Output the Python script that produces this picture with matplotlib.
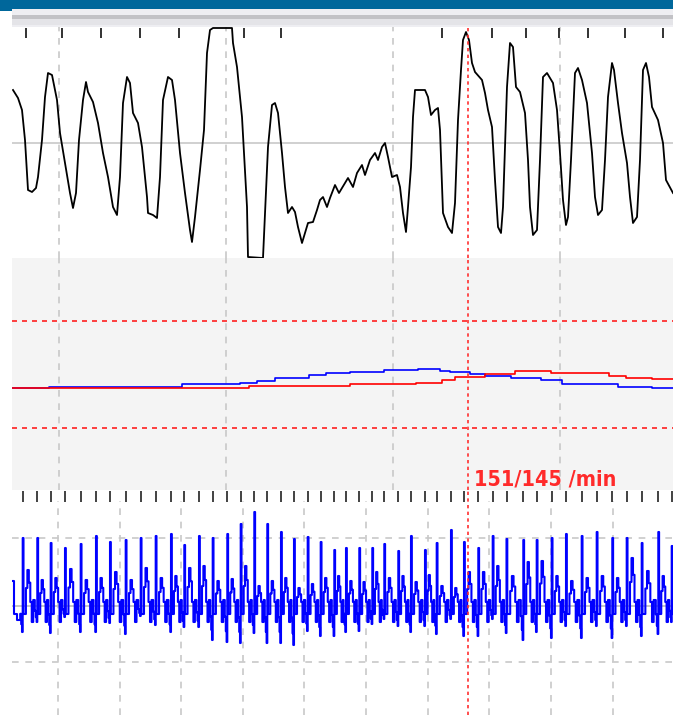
import matplotlib
matplotlib.use('Agg')
import matplotlib.pyplot as plt
from matplotlib.patches import Rectangle

W, H = 673, 715

# pulse / pressure waveform (sample index, amplitude)
wave_x = [13, 18, 22, 25, 28, 32, 36, 38, 42, 45, 48, 52, 57, 60, 65, 70, 73, 76, 79, 83,
          86, 88, 93, 98, 103, 108, 113, 117, 120, 123, 127, 130, 133, 138, 142, 147, 148, 153, 157, 160,
          163, 168, 172, 175, 180, 185, 190, 192, 195, 200, 204, 207, 210, 213, 232, 233, 237, 242, 247, 248,
          263, 265, 268, 272, 275, 278, 282, 285, 288, 292, 295, 298, 302, 305, 308, 313, 317, 320, 323, 327,
          330, 335, 339, 345, 348, 353, 357, 362, 365, 370, 375, 378, 382, 385, 388, 392, 397, 400, 403, 406,
          408, 411, 413, 415, 425, 428, 431, 435, 438, 440, 443, 448, 452, 455, 458, 461, 463, 466, 469, 472,
          475, 482, 485, 488, 492, 495, 498, 501, 503, 507, 510, 513, 516, 520, 525, 528, 530, 533, 537, 540,
          543, 547, 553, 557, 560, 563, 566, 568, 571, 575, 578, 582, 587, 592, 595, 598, 602, 605, 608, 612,
          614, 618, 622, 627, 630, 633, 637, 640, 643, 646, 649, 652, 658, 663, 666, 673]
wave_y = [53, 45, 33, 3, -47, -49, -45, -34, 3, 46, 70, 68, 43, 10, -20, -50, -65, -50, 3, 43,
          61, 51, 41, 20, -10, -34, -64, -72, -34, 40, 66, 60, 30, 20, -4, -54, -70, -72, -75, -34,
          43, 66, 63, 43, -10, -50, -87, -99, -74, -27, 13, 90, 113, 115, 115, 100, 76, 26, -64, -114,
          -115, -70, -4, 38, 40, 30, -10, -44, -70, -64, -69, -84, -100, -90, -80, -79, -67, -57, -54, -64,
          -55, -42, -50, -40, -35, -44, -30, -22, -32, -17, -10, -17, -4, 0, -14, -34, -32, -44, -70, -89,
          -64, -24, 26, 53, 53, 46, 28, 33, 35, 13, -70, -84, -90, -60, 23, 73, 103, 111, 103, 80,
          71, 63, 50, 33, 16, -37, -84, -90, -64, 56, 100, 96, 56, 51, 30, -17, -64, -92, -87, -17,
          66, 70, 60, 33, -10, -57, -82, -74, -17, 70, 75, 63, 40, -10, -54, -72, -67, -17, 46, 80,
          73, 40, 10, -20, -54, -80, -74, -17, 73, 80, 66, 36, 23, 0, -37, -50]
wave_marks = [26, 62, 101, 140, 179, 244, 281, 442, 492, 526, 559, 588, 625, 663]

# heart rate traces (segment start, bpm)
hr_blue_x = [12, 49, 182, 240, 257, 275, 309, 326, 350, 384, 418, 440, 450, 470, 485, 511, 541, 562, 618, 652, 673]
hr_blue = [142.4, 143.0, 144.7, 145.2, 146.3, 148.0, 149.7, 150.9, 151.4, 152.5, 153.1, 152.0, 151.4, 150.3,
           149.2, 148.0, 146.9, 144.7, 143.0, 142.4, 142.4]
hr_red_x = [12, 249, 350, 416, 442, 455, 485, 515, 551, 609, 626, 652, 673]
hr_red = [142.4, 143.5, 144.7, 145.2, 146.9, 148.6, 150.3, 152.0, 150.9, 149.2, 148.0, 147.6, 147.6]
hr_limits = [180, 120]
cursor_x = 468
cursor_label = "151/145 /min"

# ECG beats: R position, R height, trough, following bump
r_pos = [22.7, 37.3, 50.7, 65, 80.7, 96, 110, 125.7, 140.7, 155.7, 171,
         184.3, 199, 212.7, 227.3, 240.7, 254.3, 267.3, 281, 294, 307.7, 320.7, 334.3,
         346, 359.3, 372.3, 384.3, 398.3, 411, 425, 436.7, 451, 464, 478.3, 492.7,
         506.5, 523.3, 536.7, 551.7, 566, 581.7, 596.7, 612.3, 626.7, 641.7, 658.3, 671.7]
r_amp = [68, 68, 63, 58, 62, 70, 64, 66, 68, 70, 72,
         61, 70, 68, 72, 82, 94, 82, 74, 67, 69, 64, 56,
         58, 58, 58, 62, 55, 70, 56, 63, 76, 64, 58, 70,
         67, 66, 66, 68, 72, 70, 74, 68, 68, 63, 74, 60]
s_amp = [-26, -16, -27, -11, -26, -26, -17, -28, -10, -19, -26,
         -21, -21, -34, -36, -37, -27, -37, -37, -39, -25, -30, -30,
         -26, -25, -18, -13, -20, -26, -20, -28, -13, -30, -30, -13,
         -27, -34, -26, -32, -20, -32, -20, -32, -20, -30, -28, -16]
bump_amp = [36, 26, 28, 37, 26, 28, 34, 26, 38, 28, 30,
            38, 40, 25, 27, 40, 20, 25, 28, 18, 22, 28, 30,
            25, 24, 34, 28, 30, 24, 31, 20, 18, 34, 34, 40,
            30, 44, 45, 30, 25, 28, 30, 28, 48, 35, 30, 28]
ecg_limits = [68, -56]

grid_main = [59, 226, 393, 560]
grid_ecg = [58, 119.5, 181, 242.5, 304, 366, 427.5, 489, 551, 612.5]

ecg_x, ecg_y = [12, 14, 17], [25, -8, -14]
for i, pos in enumerate(r_pos):
    gap = (r_pos[i + 1] if i + 1 < len(r_pos) else pos + 14) - pos
    b = bump_amp[i]
    ecg_x += [pos - 2.5, pos - 1.5, pos - 0.7, pos, pos + 0.8, pos + 0.22 * gap, pos + 0.32 * gap,
              pos + 0.42 * gap, pos + 0.52 * gap, pos + 0.62 * gap, pos + 0.72 * gap]
    ecg_y += [0.3 * s_amp[i], 0.7 * s_amp[i], s_amp[i], r_amp[i], -8, 0.5 * b, b,
              0.65 * b, 4, -16, 6]


def px_rect(x0, y0, x1, y1):
    return [x0 / W, 1 - y1 / H, (x1 - x0) / W, (y1 - y0) / H]


fig = plt.figure(figsize=(W / 100, H / 100), dpi=100)
fig.patch.set_facecolor('white')

# window chrome
bg = fig.add_axes([0, 0, 1, 1])
bg.set_xlim(0, W)
bg.set_ylim(H, 0)
bg.axis('off')
bg.add_patch(Rectangle((12, 9), W - 12, 18, color='#eeeef2', lw=0))
bg.add_patch(Rectangle((12, 15), W - 12, 4, color='#c2c2c6', lw=0))
bg.add_patch(Rectangle((12, 19), W - 12, 6, color='#e4e4e8', lw=0))
bg.add_patch(Rectangle((0, 0), W, 9, color='#00679b', lw=0))
bg.add_patch(Rectangle((0, 0), 12, 11, color='#00679b', lw=0))

gray = '#c8c8c8'

# panel 1: waveform
ax1 = fig.add_axes(px_rect(12, 27, 673, 258))
ax1.set_facecolor('white')
ax1.set_xlim(12, 673)
ax1.set_ylim(-115, 116)
ax1.axhline(0, color=gray, lw=1.2, zorder=1)
for g in grid_main:
    ax1.axvline(g, color=gray, lw=1.2, ls=(0, (4, 4)), zorder=1)
ax1.vlines(wave_marks, 105, 115, color='#222222', lw=1.3, zorder=2)
ax1.plot(wave_x, wave_y, color='black', lw=1.3, zorder=3)
ax1.axvline(cursor_x, color='#ff3030', lw=1.2, ls=(0, (2, 2)), zorder=4)

# panel 2: heart rate
ax2 = fig.add_axes(px_rect(12, 258, 673, 490))
ax2.set_facecolor('#f4f4f4')
ax2.set_xlim(12, 673)
ax2.set_ylim(85.2, 215.3)
for g in grid_main:
    ax2.axvline(g, color=gray, lw=1.2, ls=(0, (4, 4)), zorder=1)
for lim in hr_limits:
    ax2.axhline(lim, color='#ff2020', lw=1.2, ls=(0, (3, 3)), zorder=2)
ax2.plot(hr_blue_x, hr_blue, color='#0000ff', lw=1.2, drawstyle='steps-post', zorder=3)
ax2.plot(hr_red_x, hr_red, color='#ff0000', lw=1.2, drawstyle='steps-post', zorder=3)
ax2.axvline(cursor_x, color='#ff3030', lw=1.2, ls=(0, (2, 2)), zorder=4)
ax2.text(cursor_x + 6, 87.5, cursor_label, color='#ff2a2a', fontsize=15.5, fontweight='bold',
         family=['Liberation Sans Narrow', 'DejaVu Sans'], fontstretch='condensed',
         ha='left', va='baseline', zorder=5)

# panel 3: ECG
ax3 = fig.add_axes(px_rect(12, 490, 673, 715))
ax3.set_facecolor('white')
ax3.set_xlim(12, 673)
ax3.set_ylim(-109, 116)
for g in grid_ecg:
    ax3.axvline(g, ymax=0.95, color=gray, lw=1.2, ls=(0, (4, 4)), zorder=1)
for lim in ecg_limits:
    ax3.axhline(lim, color=gray, lw=1.2, ls=(0, (4, 4)), zorder=1)
ax3.axhline(0, color='#bcbcbc', lw=1.2, zorder=1)
ax3.vlines(r_pos, 104, 115, color='#222222', lw=1.2, zorder=2)
ax3.plot(ecg_x, ecg_y, color='#0000ff', lw=1.5, drawstyle='steps-post', zorder=3)
ax3.axvline(cursor_x, color='#ff3030', lw=1.2, ls=(0, (2, 2)), zorder=4)

for ax in (ax1, ax2, ax3):
    ax.set_xticks([])
    ax.set_yticks([])
    for sp in ax.spines.values():
        sp.set_visible(False)

fig.savefig('out.png', dpi=100)
